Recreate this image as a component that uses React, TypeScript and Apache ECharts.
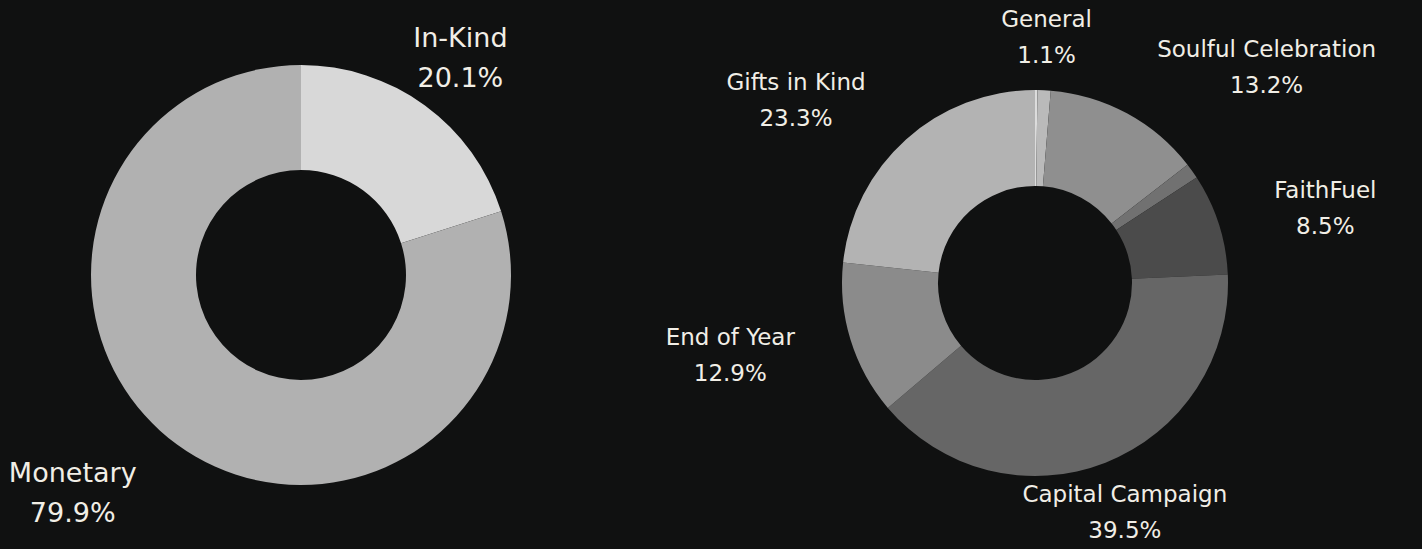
import React, { useEffect, useRef } from "react";
import * as echarts from "echarts";

// Left donut: donation type
const typeNames = ["In-Kind", "Monetary"];
const typeValues = [20.1, 79.9];
const typeColors = ["#d8d8d8", "#b1b1b1"];
const typeLabelModes = ["center", "side"];

// Right donut: campaign (two thin unlabeled slices)
const campNames = ["", "General", "Soulful Celebration", "", "FaithFuel", "Capital Campaign", "End of Year", "Gifts in Kind"];
const campValues = [0.2, 1.1, 13.2, 1.3, 8.5, 39.5, 12.9, 23.3];
const campColors = ["#dcdcdc", "#bababa", "#8f8f8f", "#717171", "#4b4b4b", "#666666", "#8b8b8b", "#b3b3b3"];
const campLabelModes = ["none", "center", "side", "none", "side", "center", "side", "side"];

const TEXT = "#f1eee6";
const FONT = "DejaVu Sans";

function makeLabelLayout(modes: string[], cx: number) {
  return (p: any) => {
    const r = p.labelRect;
    const mid = r.x + r.width / 2;
    let x = mid;
    if (modes[p.dataIndex] === "center") {
      x = mid < cx ? r.x + r.width + 5 : r.x - 5;
    }
    return { x, y: r.y + r.height / 2, align: "center", verticalAlign: "middle" };
  };
}

function buildData(names: string[], values: number[], colors: string[]) {
  return names.map((n, i) => ({
    name: n,
    value: values[i],
    itemStyle: { color: colors[i] },
    label: { show: n !== "" },
  }));
}

export default function App() {
  const ref = useRef<HTMLDivElement>(null);
  useEffect(() => {
    if (!ref.current) return;
    const chart = echarts.init(ref.current, null, { renderer: "svg" });
    const leftC = [301, 275];
    const rightC = [1035, 283];
    chart.setOption({
      animation: false,
      backgroundColor: "#101111",
      series: [
        {
          type: "pie",
          center: leftC,
          radius: [105, 210],
          startAngle: 90,
          clockwise: true,
          avoidLabelOverlap: false,
          silent: true,
          data: buildData(typeNames, typeValues, typeColors),
          label: {
            position: "outside",
            color: TEXT,
            fontFamily: FONT,
            fontSize: 27,
            lineHeight: 40,
            formatter: (p: any) => `${p.name}\n${p.value.toFixed(1)}%`,
          },
          labelLine: { show: false, length: 60, length2: 0 },
          labelLayout: makeLabelLayout(typeLabelModes, leftC[0]),
        },
        {
          type: "pie",
          center: rightC,
          radius: [97, 193],
          startAngle: 90,
          clockwise: true,
          avoidLabelOverlap: false,
          silent: true,
          data: buildData(campNames, campValues, campColors),
          label: {
            position: "outside",
            color: TEXT,
            fontFamily: FONT,
            fontSize: 23,
            lineHeight: 36,
            formatter: (p: any) => `${p.name}\n${p.value.toFixed(1)}%`,
          },
          labelLine: { show: false, length: 53, length2: 0 },
          labelLayout: makeLabelLayout(campLabelModes, rightC[0]),
        },
      ],
    });
    return () => chart.dispose();
  }, []);
  return (
    <div
      ref={ref}
      style={{ position: "fixed", left: 0, top: 0, width: "1422px", height: "549px", background: "#101111" }}
    />
  );
}
